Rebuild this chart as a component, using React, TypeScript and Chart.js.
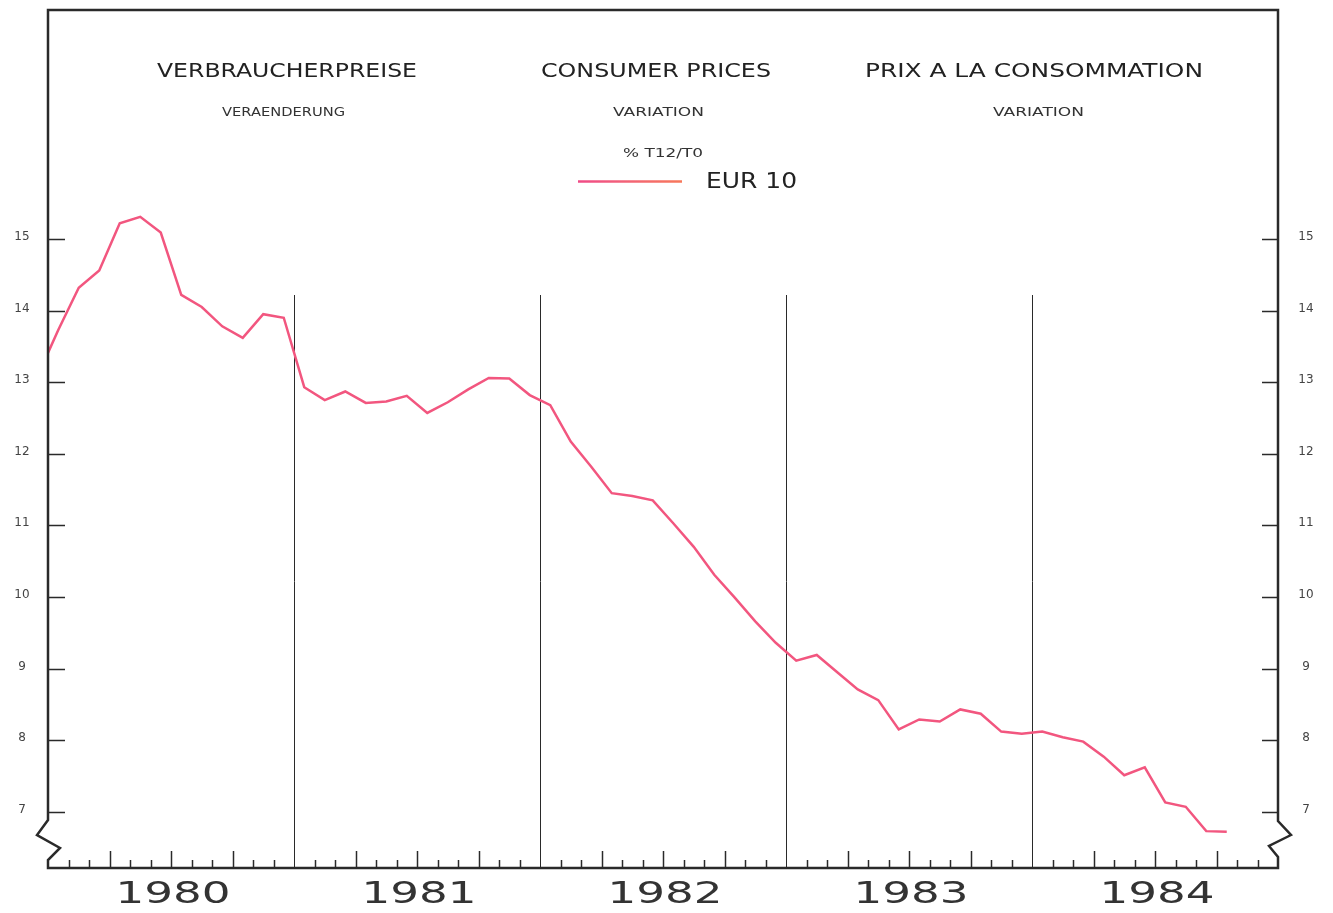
import React, { useEffect, useRef } from "react";
import { Chart, registerables } from "chart.js";

Chart.register(...registerables);

// Monthly series, month centres from Dec 1979 to Oct 1984 (% change T12/T0)
const firstMonthIndex = -1; // Dec 1979 relative to Jan 1980
const eur10Values = [
  13.09,
  13.73, 14.32, 14.56, 15.22, 15.31, 15.09, 14.22, 14.05, 13.78, 13.62, 13.95, 13.9,
  12.93, 12.75, 12.87, 12.71, 12.73, 12.81, 12.57, 12.72, 12.9, 13.06, 13.05, 12.82,
  12.68, 12.17, 11.82, 11.45, 11.41, 11.35, 11.03, 10.7, 10.31, 9.99, 9.66, 9.36,
  9.11, 9.19, 8.95, 8.71, 8.56, 8.15, 8.29, 8.26, 8.43, 8.37, 8.12, 8.09,
  8.12, 8.04, 7.98, 7.77, 7.51, 7.62, 7.13, 7.07, 6.73, 6.72,
];
const years = ["1980", "1981", "1982", "1983", "1984"];
const yTickValues = [7, 8, 9, 10, 11, 12, 13, 14, 15];
const titles = ["VERBRAUCHERPREISE", "CONSUMER PRICES", "PRIX A LA CONSOMMATION"];
const subtitles = ["VERAENDERUNG", "VARIATION", "VARIATION"];
const unitLabel = "% T12/T0";
const seriesName = "EUR 10";

const LINE_COLOR = "#f2567f";
const INK = "#2a2a2a";

function fitText(
  ctx: CanvasRenderingContext2D,
  text: string,
  cx: number,
  cy: number,
  font: string,
  width: number,
  color: string
) {
  ctx.save();
  ctx.font = font;
  ctx.fillStyle = color;
  ctx.textAlign = "center";
  ctx.textBaseline = "middle";
  const w = ctx.measureText(text).width;
  const sx = width / w;
  ctx.translate(cx, cy);
  ctx.scale(sx, 1);
  ctx.fillText(text, 0, 0);
  ctx.restore();
}

const decorPlugin = {
  id: "decor",
  beforeDatasetsDraw(chart: any) {
    const { ctx, chartArea, scales } = chart;
    const x = scales.x;
    const { bottom } = chartArea;
    ctx.save();
    ctx.strokeStyle = INK;
    ctx.lineWidth = 1;
    for (let yi = 1; yi < years.length; yi++) {
      const px = Math.round(x.getPixelForValue(yi * 12)) + 0.5;
      ctx.beginPath();
      ctx.moveTo(px, 295);
      ctx.lineTo(px, bottom);
      ctx.stroke();
    }
    ctx.restore();
  },
  afterDraw(chart: any) {
    const { ctx, chartArea, scales } = chart;
    const x = scales.x;
    const y = scales.y;
    const { left, right, top, bottom } = chartArea;
    ctx.save();

    // month ticks
    ctx.strokeStyle = INK;
    ctx.lineWidth = 1.5;
    for (let m = 1; m < years.length * 12; m++) {
      if (m % 12 === 0) continue;
      const px = Math.round(x.getPixelForValue(m)) + 0.5;
      const h = m % 3 === 0 ? 17 : 8;
      ctx.beginPath();
      ctx.moveTo(px, bottom);
      ctx.lineTo(px, bottom - h);
      ctx.stroke();
    }

    // y ticks on both sides + labels
    yTickValues.forEach((v) => {
      const py = Math.round(y.getPixelForValue(v)) + 0.5;
      ctx.beginPath();
      ctx.moveTo(left, py);
      ctx.lineTo(left + 17, py);
      ctx.moveTo(right - 16, py);
      ctx.lineTo(right, py);
      ctx.stroke();
      ctx.font = "12px 'DejaVu Sans'";
      ctx.fillStyle = "#444";
      ctx.textAlign = "center";
      ctx.textBaseline = "middle";
      ctx.fillText(String(v), 22, py - 3);
      ctx.fillText(String(v), 1306, py - 3);
    });

    // frame with axis breaks
    ctx.lineWidth = 2.5;
    ctx.lineJoin = "miter";
    ctx.beginPath();
    ctx.moveTo(left, bottom);
    ctx.lineTo(left, bottom - 8);
    ctx.lineTo(left + 12, bottom - 20);
    ctx.lineTo(left - 11, bottom - 33);
    ctx.lineTo(left, bottom - 48);
    ctx.lineTo(left, top);
    ctx.lineTo(right, top);
    ctx.lineTo(right, bottom - 47);
    ctx.lineTo(right + 13, bottom - 33);
    ctx.lineTo(right - 9, bottom - 22);
    ctx.lineTo(right, bottom - 11);
    ctx.lineTo(right, bottom);
    ctx.closePath();
    ctx.stroke();

    // year labels
    years.forEach((yr, i) => {
      const cx = x.getPixelForValue(i * 12 + 6) + 2;
      fitText(ctx, yr, cx, 895, "31px 'DejaVu Sans'", 115, "#333");
    });

    // titles
    const titleCenters = [287, 656, 1034];
    const titleWidths = [260, 230, 338];
    titles.forEach((t, i) =>
      fitText(ctx, t, titleCenters[i], 72, "20px 'DejaVu Sans'", titleWidths[i], "#222")
    );
    const subCenters = [283.5, 658.5, 1038.5];
    const subWidths = [123, 91, 91];
    subtitles.forEach((t, i) =>
      fitText(ctx, t, subCenters[i], 113, "13px 'DejaVu Sans'", subWidths[i], "#333")
    );
    fitText(ctx, unitLabel, 663, 154, "12px 'DejaVu Sans'", 80, "#333");

    // legend
    const grad = ctx.createLinearGradient(578, 0, 682, 0);
    grad.addColorStop(0, "#f04a86");
    grad.addColorStop(0.4, "#f2607a");
    grad.addColorStop(1, "#f7785a");
    ctx.strokeStyle = grad;
    ctx.lineWidth = 2.5;
    ctx.beginPath();
    ctx.moveTo(578, 181.5);
    ctx.lineTo(682, 181.5);
    ctx.stroke();
    fitText(ctx, seriesName, 751.5, 182, "22px 'DejaVu Sans'", 91, "#222");

    ctx.restore();
  },
};

export default function App() {
  const ref = useRef<HTMLCanvasElement | null>(null);
  useEffect(() => {
    if (!ref.current) return;
    const points = eur10Values.map((v, i) => ({ x: firstMonthIndex + i + 0.5, y: v }));
    const chart = new Chart(ref.current, {
      type: "line",
      data: {
        datasets: [
          {
            label: seriesName,
            data: points,
            borderColor: LINE_COLOR,
            borderWidth: 2.5,
            pointRadius: 0,
            tension: 0,
            clip: 0,
          } as any,
        ],
      },
      options: {
        animation: false,
        responsive: false,
        devicePixelRatio: 1,
        layout: { padding: { left: 48, right: 55, top: 10, bottom: 45 } },
        plugins: { legend: { display: false }, tooltip: { enabled: false } },
        scales: {
          x: { type: "linear", min: 0, max: years.length * 12, display: false },
          y: { type: "linear", min: 6.215, max: 18.198, display: false },
        },
      },
      plugins: [decorPlugin],
    });
    return () => chart.destroy();
  }, []);
  return (
    <div style={{ position: "absolute", left: 0, top: 0, width: 1333, height: 913, background: "#fff" }}>
      <canvas ref={ref} width={1333} height={913} />
    </div>
  );
}
